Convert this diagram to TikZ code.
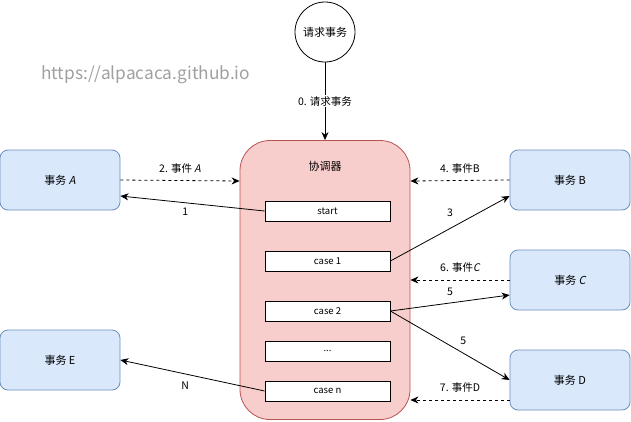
\documentclass[tikz,border=0pt]{standalone}
\usepackage{fontspec}
\setmainfont{Noto Sans CJK SC}[AutoFakeSlant=0.2]
\usetikzlibrary{arrows.meta,calc}
\definecolor{redfill}{HTML}{F8CECC}
\definecolor{redline}{HTML}{B85450}
\definecolor{bluefill}{HTML}{DAE8FC}
\definecolor{blueline}{HTML}{6C8EBF}
\definecolor{wmgray}{HTML}{A0A0A0}
\begin{document}
\begin{tikzpicture}[x=1pt,y=-1pt,
  task/.style={draw=blueline,fill=bluefill,rounded corners=8pt,minimum width=120pt,minimum height=60pt,inner sep=0pt,font=\fontsize{11}{13}\selectfont,line width=0.8pt},
  casebox/.style={draw=black,fill=white,minimum width=125pt,minimum height=20pt,inner sep=0pt,font=\fontsize{9.5}{11}\selectfont,line width=0.8pt},
  arr/.style={-{Stealth[length=8pt,width=7pt,inset=2.5pt]},line width=0.8pt},
  darr/.style={arr,dashed,dash pattern=on 3pt off 3pt},
  lbl/.style={font=\fontsize{10.5}{12}\selectfont,inner sep=1pt}
]
\useasboundingbox (0,0) rectangle (631,421);
% coordinator
\node[draw=redline,fill=redfill,rounded corners=30pt,minimum width=170pt,minimum height=279pt,inner sep=0pt,line width=0.8pt] (coord) at (325,280) {};
\node[font=\fontsize{11}{13}\selectfont] (ctitle) at (325,166) {协调器};
\node[casebox] (start) at (327.5,211) {start};
\node[casebox] (c1) at (327.5,261) {case 1};
\node[casebox] (c2) at (327.5,311) {case 2};
\node[casebox] (cd) at (327.5,351) {...};
\node[casebox] (cn) at (327.5,391) {case n};
% request circle
\node[draw=black,fill=white,circle,minimum size=60pt,inner sep=0pt,line width=0.8pt,font=\fontsize{11}{13}\selectfont] (req) at (325,32) {请求事务};
% watermark
\node[text=wmgray,font=\fontsize{17.3}{19}\selectfont,anchor=west,inner sep=0pt] (wm) at (41,75) {https://alpacaca.github.io};
% tasks
\node[task] (A) at (60,180) {事务 \textit{A}};
\node[task] (B) at (570,180) {事务 B};
\node[task] (C) at (570,280) {事务 \textit{C}};
\node[task] (D) at (570,380) {事务 D};
\node[task] (E) at (60,360) {事务 E};
% connectors
\draw[arr] (req.south) -- node[lbl,fill=white,pos=0.5] {0. 请求事务} (coord.north);
\draw[darr] (A.east) -- ($(coord.west)+(0,-99)$) node[lbl,midway,above=6pt] {2. 事件 \textit{A}};
\draw[arr] (start.west) -- node[lbl,pos=0.55,below=4pt] {1} ($(A.east)+(0,16)$);
\draw[darr] (B.west) -- ($(coord.east)+(0,-99)$) node[lbl,midway,above=6pt] {4. 事件B};
\draw[arr] (c1.east) -- node[lbl,pos=0.5,above=10pt] {3} ($(B.west)+(0,16)$);
\draw[darr] (C.west) -- ($(coord.east)+(0,0)$) node[lbl,midway,above=6pt] {6. 事件\textit{C}};
\draw[arr] (c2.east) -- node[lbl,pos=0.5,above=6pt] {5} ($(C.west)+(0,15)$);
\draw[arr] (c2.east) -- node[lbl,pos=0.55,above right=3pt] {5} (D.west);
\draw[darr] ($(D.west)+(0,20)$) -- ($(coord.east)+(0,120)$) node[lbl,midway,above=6pt] {7. 事件D};
\draw[arr] (cn.west) -- node[lbl,pos=0.55,below=6pt] {N} (E.east);
\end{tikzpicture}
\end{document}
